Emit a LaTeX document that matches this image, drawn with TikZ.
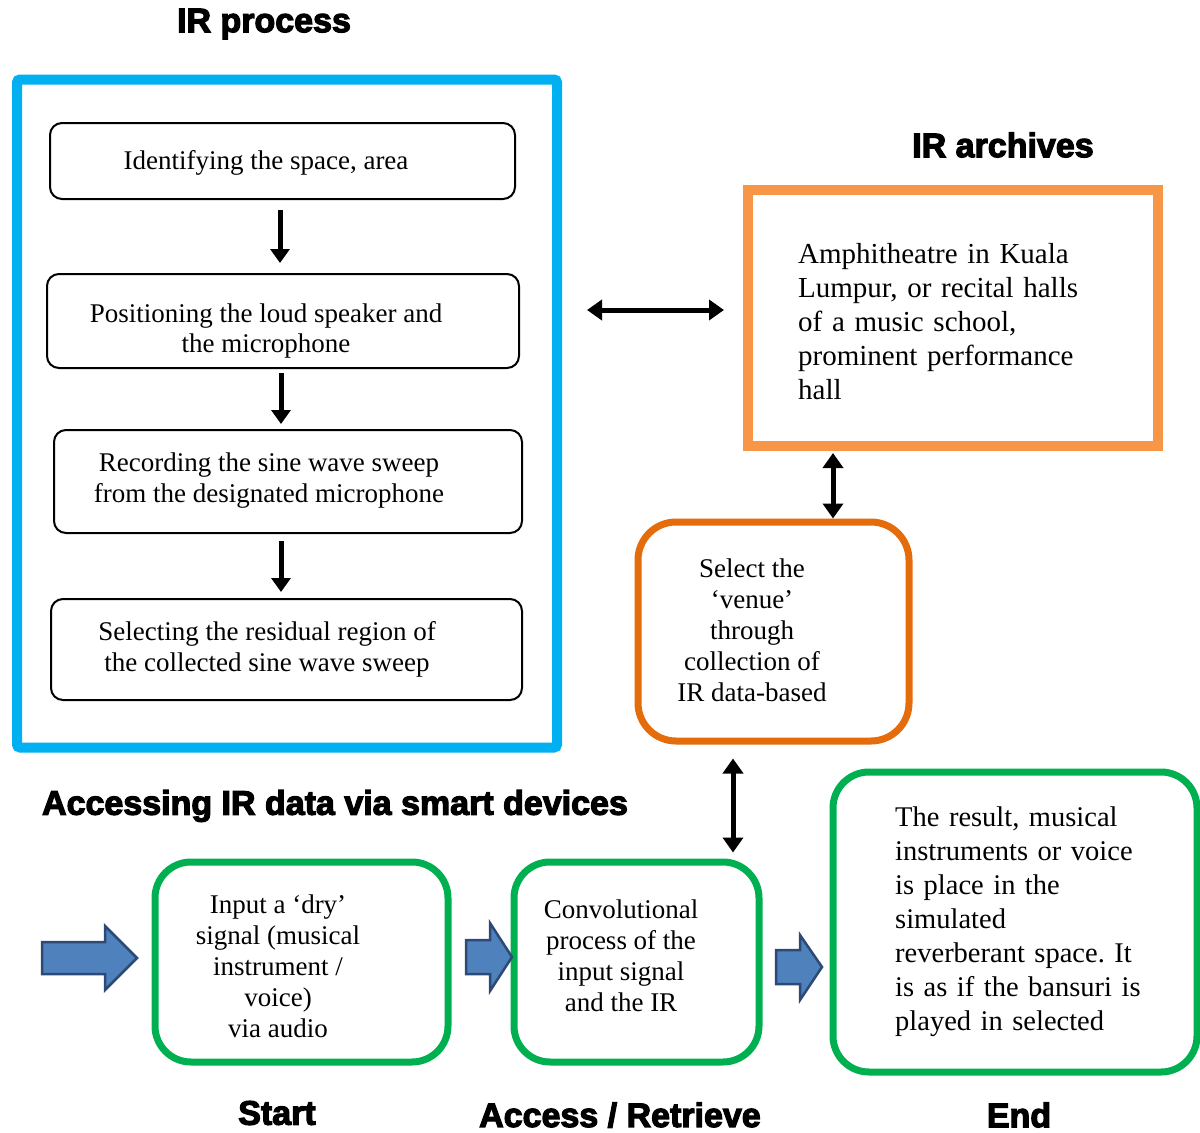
\documentclass[tikz,border=0pt]{standalone}
\usepackage{fontspec}
\setmainfont{Liberation Serif}
\newfontfamily\headfont[FakeBold=3.5]{Liberation Sans Bold}
\usetikzlibrary{arrows.meta}
\definecolor{irblue}{HTML}{00B0F0}
\definecolor{archorange}{HTML}{F79646}
\definecolor{venueorange}{HTML}{E46C0A}
\definecolor{okgreen}{HTML}{00B050}
\definecolor{arrowfill}{HTML}{4F81BD}
\definecolor{arrowline}{HTML}{2C4A75}
\tikzset{
  heading/.style={font=\headfont\fontsize{34}{38}\selectfont, inner sep=0pt},
  bodytext/.style={inner sep=0pt, align=center, font=\fontsize{27}{31}\selectfont},
  stepbox/.style={draw=black, line width=2pt, rounded corners=12pt, inner sep=0pt},
  greenbox/.style={draw=okgreen, line width=7pt, rounded corners=36pt, inner sep=0pt},
  biarrow/.style={line width=5pt, {Triangle[length=15pt,width=20pt]}-{Triangle[length=15pt,width=20pt]}},
  downarrow/.style={line width=5pt, -{Triangle[length=14pt,width=19pt]}},
  blockarrow/.style={fill=arrowfill, draw=arrowline, line width=2.5pt, line join=miter},
}
\begin{document}
\frenchspacing
\begin{tikzpicture}[x=1pt,y=-1pt]
\useasboundingbox (0,0) rectangle (1200,1133);

% headings
\node[heading] (t1) at (264,24) {IR process};
\node[heading] (t2) at (1003,145) {IR archives};
\node[heading] (t3) at (335,806) {Accessing IR data via smart devices};
\node[heading] (t4) at (277,1113) {Start};
\node[heading] (t5) at (620,1115) {Access / Retrieve};
\node[heading] (t6) at (1019,1115) {End};

% IR process frame
\node[draw=irblue, line width=10pt, rounded corners=3pt, minimum width=540pt, minimum height=668pt, inner sep=0pt] (frame) at (287,413.5) {};

\node[stepbox, minimum width=465pt, minimum height=76pt] (s1) at (282.5,161) {};
\node[bodytext] (s1t) at (266,163) {Identifying the space, area};
\node[stepbox, minimum width=472pt, minimum height=94pt] (s2) at (283,321) {};
\node[bodytext] (s2t) at (266,331) {Positioning the loud speaker and\\the microphone};
\node[stepbox, minimum width=468pt, minimum height=103pt] (s3) at (288,481.5) {};
\node[bodytext] (s3t) at (269,481) {Recording the sine wave sweep\\from the designated microphone};
\node[stepbox, minimum width=471pt, minimum height=101pt] (s4) at (286.5,649.5) {};
\node[bodytext] (s4t) at (267,649) {Selecting the residual region of\\the collected sine wave sweep};

\draw[downarrow, shorten <=10pt, shorten >=10pt] (s1.south -| 280,0) -- (s2.north -| 280,0);
\draw[downarrow, shorten <=4pt, shorten >=5pt] (s2.south -| 281,0) -- (s3.north -| 281,0);
\draw[downarrow, shorten <=7pt, shorten >=6pt] (s3.south -| 281,0) -- (s4.north -| 281,0);

% archives
\node[draw=archorange, line width=10pt, minimum width=410pt, minimum height=256pt, inner sep=0pt] (arch) at (953,318) {};
\node[inner sep=0pt, text width=330pt, align=left, font=\fontsize{29}{34}\selectfont, anchor=west] (archt) at (798,322)
  {Amphitheatre in Kuala\\Lumpur, or recital halls\\of a music school,\\prominent performance\\hall};

\draw[biarrow, shorten <=25pt, shorten >=19pt] (frame.east |- 0,310) -- (arch.west |- 0,310);

% venue
\node[draw=venueorange, line width=7pt, rounded corners=38pt, minimum width=271pt, minimum height=219pt, inner sep=0pt] (venue) at (773.5,631.5) {};
\node[bodytext] (venuet) at (752,630) {Select the\\`venue'\\through\\collection of\\IR data-based};

\draw[biarrow, shorten <=2pt, shorten >=0pt] (arch.south -| 833,0) -- (venue.north -| 833,0);

% bottom row
\node[greenbox, minimum width=293pt, minimum height=200pt] (in) at (301.5,962) {};
\node[bodytext] (int) at (278,966) {Input a `dry'\\signal (musical\\instrument /\\voice)\\via audio};
\node[greenbox, minimum width=245pt, minimum height=200pt] (conv) at (636.5,962) {};
\node[bodytext] (convt) at (621,956) {Convolutional\\process of the\\input signal\\and the IR};
\node[greenbox, minimum width=364pt, minimum height=300pt] (res) at (1015,922) {};
\node[inner sep=0pt, text width=300pt, align=left, font=\fontsize{28.5}{34}\selectfont, anchor=west] (rest) at (895,922)
  {The result, musical\\instruments or voice\\is place in the\\simulated\\reverberant space. It\\is as if the bansuri is\\played in selected};

\draw[biarrow, shorten <=14pt, shorten >=6pt] (venue.south -| 733,0) -- (conv.north -| 733,0);

% block arrows
\draw[blockarrow] (42,942) -- (105,942) -- (105,926) -- (137,958) -- (105,990) -- (105,974) -- (42,974) -- cycle;
\draw[blockarrow] (466,940) -- (490,940) -- (490,923) -- (512,957) -- (490,991) -- (490,974) -- (466,974) -- cycle;
\draw[blockarrow] (776,950) -- (800,950) -- (800,935) -- (822,967) -- (800,1000) -- (800,984) -- (776,984) -- cycle;
\end{tikzpicture}
\end{document}
